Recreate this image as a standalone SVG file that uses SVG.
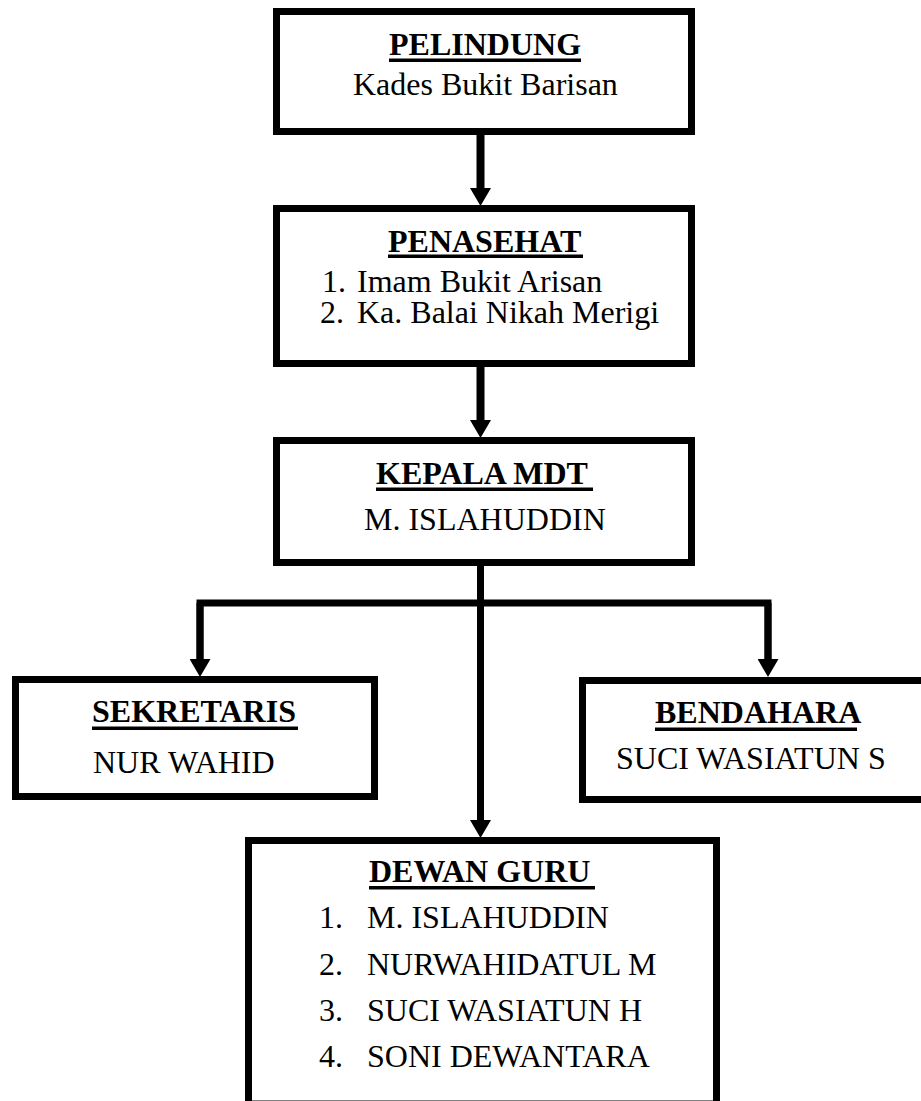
<svg xmlns="http://www.w3.org/2000/svg" width="921" height="1101" viewBox="0 0 921 1101">
<style>
.box{fill:#fff;stroke:#000;stroke-width:7}
.t{font-family:"Liberation Serif","Times New Roman",serif;font-size:32px;fill:#000}
.b{font-weight:bold}
.ul{fill:#000}
.c{fill:none;stroke:#000;stroke-width:7;stroke-linejoin:miter;stroke-linecap:butt}
</style>
<defs>
<marker id="ah" viewBox="0 0 18 21" refX="0" refY="10.5" markerWidth="18" markerHeight="21" markerUnits="userSpaceOnUse" orient="auto">
<path d="M0,0 L18,10.5 L0,21 z" fill="#000"/>
</marker>
</defs>
<rect width="921" height="1101" fill="#fff"/>
<g id="connectors">
<line class="c" style="stroke-width:8" x1="480.5" y1="135" x2="480.5" y2="188" marker-end="url(#ah)"/>
<line class="c" style="stroke-width:8" x1="480.5" y1="367" x2="480.5" y2="420" marker-end="url(#ah)"/>
<line class="c" x1="480.5" y1="566" x2="480.5" y2="820" marker-end="url(#ah)"/>
<path class="c" d="M200,603 V659" marker-end="url(#ah)"/>
<path class="c" d="M768,603 V659" marker-end="url(#ah)"/>
<path class="c" d="M200,660 V603 H768 V660"/>
</g>
<g id="pelindung">
<rect class="box" x="276.5" y="11.5" width="415" height="120"/>
<text class="t b" x="389" y="55">PELINDUNG</text>
<rect class="ul" x="389" y="58.5" width="192" height="3.5"/>
<text class="t" x="353" y="95">Kades Bukit Barisan</text>
</g>
<g id="penasehat">
<rect class="box" x="276.5" y="208.5" width="415" height="155"/>
<text class="t b" x="388" y="252">PENASEHAT</text>
<rect class="ul" x="388" y="254.5" width="195" height="3.5"/>
<text class="t" x="322" y="292">1.</text>
<text class="t" x="357" y="292">Imam Bukit Arisan</text>
<text class="t" x="320" y="323">2.</text>
<text class="t" x="357" y="323">Ka. Balai Nikah Merigi</text>
</g>
<g id="kepala">
<rect class="box" x="276.5" y="440.5" width="415" height="122"/>
<text class="t b" x="376" y="484">KEPALA MDT</text>
<rect class="ul" x="376" y="487.5" width="217" height="3.5"/>
<text class="t" x="364" y="530">M. ISLAHUDDIN</text>
</g>
<g id="sekretaris">
<rect class="box" x="15.5" y="679.5" width="359" height="117"/>
<text class="t b" x="92" y="722">SEKRETARIS</text>
<rect class="ul" x="92" y="726.5" width="206" height="3.5"/>
<text class="t" x="93" y="773">NUR WAHID</text>
</g>
<g id="bendahara">
<rect class="box" x="582.5" y="680.5" width="350" height="119"/>
<text class="t b" x="655" y="723">BENDAHARA</text>
<rect class="ul" x="655" y="727.5" width="202" height="3.5"/>
<text class="t" x="616" y="769">SUCI WASIATUN S</text>
</g>
<g id="dewan-guru">
<rect class="box" x="248.5" y="840.5" width="468" height="263.5"/>
<text class="t b" x="369" y="882">DEWAN GURU</text>
<rect class="ul" x="369" y="886" width="226" height="3.5"/>
<text class="t" x="319" y="928">1.</text>
<text class="t" x="367" y="928">M. ISLAHUDDIN</text>
<text class="t" x="319" y="975">2.</text>
<text class="t" x="367" y="975">NURWAHIDATUL M</text>
<text class="t" x="319" y="1021">3.</text>
<text class="t" x="367" y="1021">SUCI WASIATUN H</text>
<text class="t" x="319" y="1067">4.</text>
<text class="t" x="367" y="1067">SONI DEWANTARA</text>
</g>
</svg>
